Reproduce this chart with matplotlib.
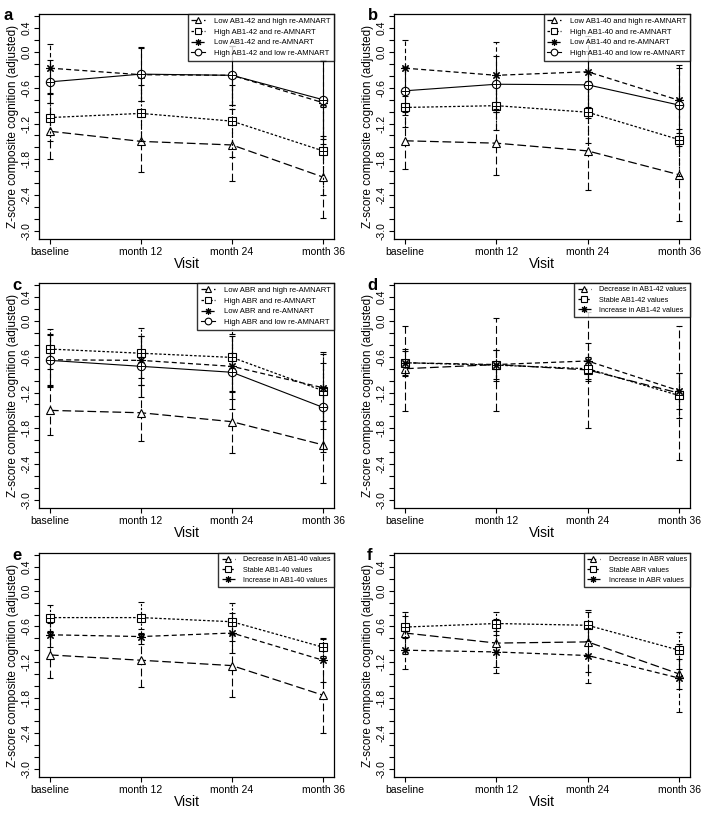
import matplotlib
matplotlib.use("Agg")
import matplotlib.pyplot as plt
import numpy as np

# ============================================================
# CONFIGURATION
# ============================================================
plt.rcParams["font.family"] = ["Liberation Sans", "DejaVu Sans"]
plt.rcParams["axes.unicode_minus"] = False

W, H, DPI = 709, 813, 100

VISITS = ["baseline", "month 12", "month 24", "month 36"]
Y_TICKS = np.round(np.arange(-3.0, 0.61, 0.2), 1)
Y_LABELED = [0.4, 0.0, -0.6, -1.2, -1.8, -2.4, -3.0]

# ============================================================
# DATA
# ============================================================
# panel a
a_labels = ["Low AB1-42 and high re-AMNART", "High AB1-42 and re-AMNART",
            "Low AB1-42 and re-AMNART", "High AB1-42 and low re-AMNART"]
a_tri = [-1.33, -1.50, -1.56, -2.10]
a_sq = [-1.10, -1.03, -1.16, -1.66]
a_ast = [-0.27, -0.38, -0.39, -0.85]
a_circ = [-0.50, -0.37, -0.39, -0.80]
a_tri_err = [0.47, 0.52, 0.60, 0.69]
a_sq_err = [0.39, 0.47, 0.61, 0.74]
a_ast_err = [0.41, 0.45, 0.50, 0.70]
a_circ_err = [0.36, 0.46, 0.50, 0.66]

# panel b
b_labels = ["Low AB1-40 and high re-AMNART", "High AB1-40 and re-AMNART",
            "Low AB1-40 and re-AMNART", "High AB1-40 and low re-AMNART"]
b_tri = [-1.49, -1.53, -1.66, -2.06]
b_sq = [-0.93, -0.90, -1.01, -1.47]
b_ast = [-0.27, -0.39, -0.33, -0.81]
b_circ = [-0.65, -0.54, -0.55, -0.89]
b_tri_err = [0.48, 0.53, 0.65, 0.77]
b_sq_err = [0.33, 0.41, 0.52, 0.62]
b_ast_err = [0.47, 0.56, 0.60, 0.55]
b_circ_err = [0.40, 0.47, 0.56, 0.68]

# panel c
c_labels = ["Low ABR and high re-AMNART", "High ABR and re-AMNART",
            "Low ABR and re-AMNART", "High ABR and low re-AMNART"]
c_tri = [-1.50, -1.54, -1.69, -2.08]
c_sq = [-0.47, -0.54, -0.61, -1.17]
c_ast = [-0.65, -0.66, -0.76, -1.12]
c_circ = [-0.66, -0.76, -0.86, -1.45]
c_tri_err = [0.41, 0.47, 0.52, 0.64]
c_sq_err = [0.34, 0.42, 0.58, 0.65]
c_ast_err = [0.42, 0.41, 0.55, 0.56]
c_circ_err = [0.45, 0.51, 0.61, 0.75]

# panel d
d_labels = ["Decrease in AB1-42 values", "Stable AB1-42 values", "Increase in AB1-42 values"]
d_tri = [-0.80, -0.73, -0.82, -1.21]
d_sq = [-0.70, -0.74, -0.80, -1.25]
d_ast = [-0.70, -0.73, -0.67, -1.17]
d_tri_err = [0.71, 0.78, 0.98, 1.12]
d_sq_err = [0.23, 0.26, 0.20, 0.37]
d_ast_err = [0.20, 0.25, 0.31, 0.30]

# panel e
e_labels = ["Decrease in AB1-40 values", "Stable AB1-40 values", "Increase in AB1-40 values"]
e_tri = [-1.08, -1.17, -1.26, -1.76]
e_sq = [-0.45, -0.45, -0.52, -0.95]
e_ast = [-0.74, -0.77, -0.71, -1.17]
e_tri_err = [0.39, 0.45, 0.53, 0.63]
e_sq_err = [0.22, 0.26, 0.32, 0.14]
e_ast_err = [0.20, 0.12, 0.33, 0.37]

# panel f
f_labels = ["Decrease in ABR values", "Stable ABR values", "Increase in ABR values"]
f_tri = [-0.71, -0.88, -0.86, -1.40]
f_sq = [-0.61, -0.55, -0.58, -1.00]
f_ast = [-1.00, -1.03, -1.09, -1.47]
f_tri_err = [0.36, 0.40, 0.50, 0.25]
f_sq_err = [0.18, 0.20, 0.26, 0.31]
f_ast_err = [0.32, 0.36, 0.46, 0.57]

# ============================================================
# STYLES
# ============================================================
STYLE = {
    "tri": dict(marker="^", dashes=(7, 3), lw=0.9, overlay=None),
    "sq": dict(marker="s", dashes=(2, 1.5), lw=0.9, overlay="+"),
    "ast": dict(marker=(8, 2, 0), dashes=(4, 2.5), lw=0.9, overlay=None),
    "circ": dict(marker="o", dashes=None, lw=0.8, overlay="+"),
}


# ============================================================
# HELPERS
# ============================================================
def px_axes(fig, left, top, right, bottom):
    return fig.add_axes([left / W, 1 - bottom / H, (right - left) / W, (bottom - top) / H])


def draw_series(ax, x, y, err, kind, label):
    st = STYLE[kind]
    eb = ax.errorbar(x, y, yerr=err, fmt="none", ecolor="black", elinewidth=0.8,
                     capsize=2.5, capthick=0.8)
    if st["dashes"] is not None:
        eb[2][0].set_linestyle((0, st["dashes"]))
    line, = ax.plot(x, y, color="black", lw=st["lw"], marker=st["marker"],
                    markersize=6, markerfacecolor="white", markeredgecolor="black",
                    markeredgewidth=0.8, label=label)
    if st["dashes"] is not None:
        line.set_dashes(st["dashes"])
    if st["overlay"]:
        ax.plot(x, y, ls="none", marker=st["overlay"], markersize=5.5,
                markeredgewidth=0.7, color="black")


def draw_panel(fig, rect, letter, series, labels, legend_size, letter_dx):
    ax = px_axes(fig, *rect)
    x = np.arange(1, len(VISITS) + 1)
    for (kind, y, err), lab in zip(series, labels):
        draw_series(ax, x, y, err, kind, lab)

    ax.set_xlim(0.88, 4.12)
    ax.set_ylim(-3.14, 0.64)
    ax.set_xticks(x)
    ax.set_xticklabels(VISITS, fontsize=7.5)
    ax.set_yticks(Y_TICKS)
    ax.set_yticklabels([f"{v:.1f}" if any(abs(v - l) < 1e-6 for l in Y_LABELED) else ""
                        for v in Y_TICKS], fontsize=7.5, rotation=90, va="center")
    ax.tick_params(length=3.5, width=0.8, pad=2)
    for sp in ax.spines.values():
        sp.set_linewidth(0.9)

    ax.set_xlabel("Visit", fontsize=10, labelpad=0)
    ax.set_ylabel("Z-score composite cognition (adjusted)", fontsize=8.5, labelpad=2)

    leg = ax.legend(loc="upper right", fontsize=legend_size, frameon=True, fancybox=False,
                    edgecolor="black", borderaxespad=0, handlelength=1.8,
                    handletextpad=1.2, borderpad=0.45, labelspacing=0.45,
                    markerscale=0.8)
    leg.get_frame().set_linewidth(1.0)

    fig.text((rect[0] - letter_dx) / W, 1 - (rect[1] + 2) / H, letter, fontsize=12,
             fontweight="bold", ha="left", va="center")
    return ax


# ============================================================
# MAIN
# ============================================================
def main():
    fig = plt.figure(figsize=(W / DPI, H / DPI), dpi=DPI)

    col_l = (39, 334)
    col_r = (394, 690)
    rows = [(14, 239), (283, 508), (553, 777)]

    panels = [
        ("a", (col_l[0], rows[0][0], col_l[1], rows[0][1]),
         [("tri", a_tri, a_tri_err), ("sq", a_sq, a_sq_err),
          ("ast", a_ast, a_ast_err), ("circ", a_circ, a_circ_err)], a_labels, 5.5, 35),
        ("b", (col_r[0], rows[0][0], col_r[1], rows[0][1]),
         [("tri", b_tri, b_tri_err), ("sq", b_sq, b_sq_err),
          ("ast", b_ast, b_ast_err), ("circ", b_circ, b_circ_err)], b_labels, 5.5, 26),
        ("c", (col_l[0], rows[1][0], col_l[1], rows[1][1]),
         [("tri", c_tri, c_tri_err), ("sq", c_sq, c_sq_err),
          ("ast", c_ast, c_ast_err), ("circ", c_circ, c_circ_err)], c_labels, 5.5, 27),
        ("d", (col_r[0], rows[1][0], col_r[1], rows[1][1]),
         [("tri", d_tri, d_tri_err), ("sq", d_sq, d_sq_err),
          ("ast", d_ast, d_ast_err)], d_labels, 5.2, 27),
        ("e", (col_l[0], rows[2][0], col_l[1], rows[2][1]),
         [("tri", e_tri, e_tri_err), ("sq", e_sq, e_sq_err),
          ("ast", e_ast, e_ast_err)], e_labels, 5.2, 27),
        ("f", (col_r[0], rows[2][0], col_r[1], rows[2][1]),
         [("tri", f_tri, f_tri_err), ("sq", f_sq, f_sq_err),
          ("ast", f_ast, f_ast_err)], f_labels, 5.2, 27),
    ]

    for letter, rect, series, labels, lsize, ldx in panels:
        draw_panel(fig, rect, letter, series, labels, lsize, ldx)

    fig.savefig("out.png", dpi=DPI)
    plt.close(fig)


if __name__ == "__main__":
    main()
